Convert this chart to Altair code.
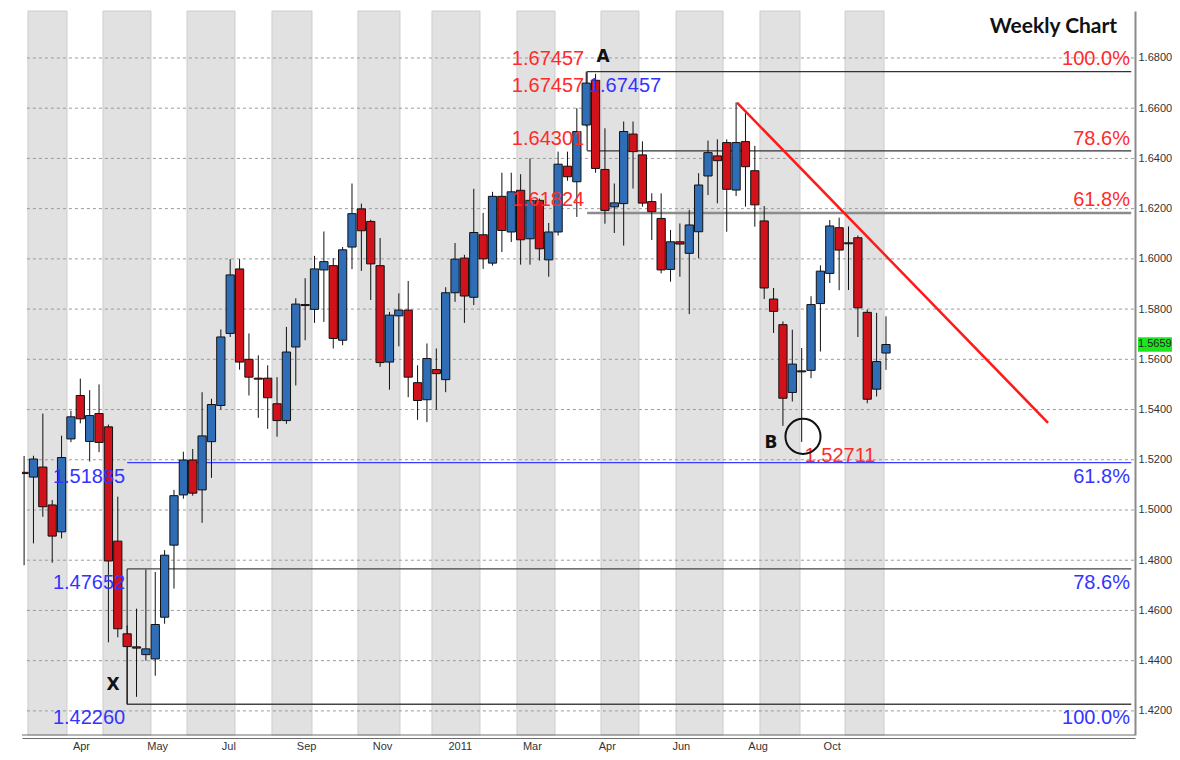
import json
import altair as alt
import pandas as pd

# ---------------- data ----------------
OPEN = [1.5150, 1.5131, 1.5171, 1.5020, 1.4913, 1.5283, 1.5456, 1.5273, 1.5384, 1.5331,
        1.4876, 1.4507, 1.4455, 1.4424, 1.4407, 1.4573, 1.4860, 1.5060, 1.5199, 1.5080,
        1.5272, 1.5416, 1.5703, 1.5960, 1.5600, 1.5525, 1.5525, 1.5423, 1.5356, 1.5649,
        1.5818, 1.5799, 1.5956, 1.5973, 1.5676, 1.6047, 1.6199, 1.6149, 1.5973, 1.5589,
        1.5773, 1.5796, 1.5507, 1.5439, 1.5559, 1.5519, 1.5865, 1.6003, 1.5847, 1.6096,
        1.5983, 1.6249, 1.6107, 1.6273, 1.6080, 1.6233, 1.5996, 1.6107, 1.6369, 1.6307,
        1.6533, 1.6711, 1.6356, 1.6207, 1.6220, 1.6497, 1.6414, 1.6228, 1.6161, 1.5958,
        1.6068, 1.6022, 1.6108, 1.6330, 1.6410, 1.6463, 1.6274, 1.6467, 1.6351, 1.6151,
        1.5840, 1.5738, 1.5468, 1.5554, 1.5556, 1.5822, 1.5942, 1.6124, 1.6064, 1.6084,
        1.5787, 1.5481, 1.5625]
HIGH = [1.5215, 1.5216, 1.5384, 1.5040, 1.5296, 1.5395, 1.5523, 1.5477, 1.5500, 1.5340,
        1.5053, 1.4540, 1.4607, 1.4763, 1.4753, 1.4840, 1.5080, 1.5232, 1.5243, 1.5469,
        1.5443, 1.5719, 1.5999, 1.5999, 1.5703, 1.5616, 1.5576, 1.5529, 1.5729, 1.5843,
        1.5923, 1.6012, 1.6109, 1.6003, 1.6047, 1.6300, 1.6220, 1.6156, 1.6083, 1.5789,
        1.5863, 1.5912, 1.5576, 1.5663, 1.5643, 1.5887, 1.6063, 1.6016, 1.6279, 1.6183,
        1.6267, 1.6343, 1.6343, 1.6337, 1.6400, 1.6240, 1.6143, 1.6427, 1.6427, 1.6600,
        1.67457, 1.6737, 1.6520, 1.6300, 1.6547, 1.6547, 1.6468, 1.6261, 1.6261, 1.6115,
        1.6141, 1.6195, 1.6341, 1.6471, 1.6476, 1.6476, 1.6623, 1.6580, 1.6450, 1.6210,
        1.5884, 1.5751, 1.5718, 1.5645, 1.5851, 1.5974, 1.6155, 1.6164, 1.6129, 1.6093,
        1.5798, 1.5785, 1.5771]
LOW = [1.4780, 1.4867, 1.4973, 1.4790, 1.4887, 1.5270, 1.5345, 1.5193, 1.5230, 1.4473,
       1.4493, 1.4226, 1.4256, 1.4400, 1.4340, 1.4547, 1.4687, 1.5045, 1.5057, 1.4949,
       1.5128, 1.5400, 1.5689, 1.5559, 1.5456, 1.5367, 1.5323, 1.5292, 1.5343, 1.5496,
       1.5676, 1.5745, 1.5749, 1.5643, 1.5656, 1.5959, 1.5952, 1.5836, 1.5570, 1.5479,
       1.5652, 1.5449, 1.5359, 1.5350, 1.5399, 1.5469, 1.5829, 1.5745, 1.5816, 1.5960,
       1.5973, 1.6027, 1.6067, 1.5977, 1.5977, 1.5993, 1.5929, 1.6093, 1.6311, 1.6167,
       1.6527, 1.6343, 1.6140, 1.6103, 1.6053, 1.6280, 1.6208, 1.6075, 1.5942, 1.5909,
       1.5929, 1.5780, 1.6002, 1.6254, 1.6221, 1.6108, 1.6250, 1.6208, 1.6128, 1.5840,
       1.5705, 1.5335, 1.5432, 1.52711, 1.5525, 1.5631, 1.5904, 1.5875, 1.5876, 1.5689,
       1.5425, 1.5452, 1.5558]
CLOSE = [1.5145, 1.5203, 1.5013, 1.4896, 1.5209, 1.5371, 1.5363, 1.5376, 1.5269, 1.4797,
         1.4527, 1.4456, 1.4450, 1.4447, 1.4544, 1.4820, 1.5057, 1.5199, 1.5067, 1.5295,
         1.5420, 1.5689, 1.5936, 1.5589, 1.5529, 1.5521, 1.5447, 1.5356, 1.5629, 1.5820,
         1.5814, 1.5960, 1.5989, 1.5683, 1.6036, 1.6180, 1.6112, 1.5980, 1.5587, 1.5776,
         1.5796, 1.5529, 1.5436, 1.5603, 1.5543, 1.5865, 1.5999, 1.5852, 1.6105, 1.6000,
         1.6249, 1.6113, 1.6267, 1.6076, 1.6233, 1.6040, 1.6107, 1.6377, 1.6327, 1.6507,
         1.6700, 1.6360, 1.6193, 1.6223, 1.6507, 1.6427, 1.6222, 1.6188, 1.5956, 1.6068,
         1.6059, 1.6135, 1.6294, 1.6423, 1.6391, 1.6277, 1.6463, 1.6367, 1.6215, 1.5884,
         1.5791, 1.5445, 1.5581, 1.5550, 1.5818, 1.5951, 1.6131, 1.6035, 1.6060, 1.5805,
         1.5441, 1.5591, 1.5659]

# month shading (week-index ranges)
STRIPE_START = [0.41, 8.42, 17.39, 26.46, 35.64, 43.54, 52.61, 61.58, 69.59, 78.55, 87.63]
STRIPE_END = [4.58, 13.54, 22.51, 30.73, 40.12, 48.66, 56.67, 65.63, 74.61, 82.82, 91.79]

# x-axis labels (week index where each label sits)
MONTH_LABELS = ["Apr", "May", "Jul", "Sep", "Nov", "2011", "Mar", "Apr", "Jun", "Aug", "Oct"]
MONTH_POS = [6.07, 14.2, 21.8, 30.1, 38.2, 46.5, 54.2, 62.2, 70.1, 78.3, 86.2]

# price grid / y tick labels
GRID_LEVELS = [1.42, 1.44, 1.46, 1.48, 1.50, 1.52, 1.54, 1.56, 1.58, 1.60, 1.62, 1.64, 1.66, 1.68]

# Fibonacci levels
FIB_LEVELS = [1.67457, 1.64301, 1.61824, 1.51885, 1.47652, 1.42260]
FIB_START = [60.1, 60.1, 60.1, 11.0, 11.0, 11.0]
FIB_PCT = ["100.0%", "78.6%", "61.8%", "61.8%", "78.6%", "100.0%"]

# trend line (week index, price)
TREND_X = [76.1, 109.3]
TREND_Y = [1.6622, 1.5347]

LAST_PRICE = 1.5659
LOW_B = 1.52711

# ---------------- layout ----------------
W, H = 1113, 724
X_MIN, X_MAX = -0.224, 118.58
Y_MIN, Y_MAX = 1.4104, 1.6987
BLUE = "#2f6eb6"
RED = "#d2121a"
LBL_RED = "#ff2b2b"
LBL_BLUE = "#3434ff"
FONT = "Liberation Sans"

xs = alt.Scale(domain=[X_MIN, X_MAX], nice=False, zero=False)
ys = alt.Scale(domain=[Y_MIN, Y_MAX], nice=False, zero=False)

label_expr = f"{json.dumps(MONTH_LABELS)}[indexof({json.dumps(MONTH_POS)}, datum.value)]"
XAXIS = alt.Axis(values=MONTH_POS, labelExpr=label_expr, ticks=False, grid=False,
                 title=None, labelFont=FONT, labelFontSize=11, labelColor="#333333",
                 labelPadding=2, offset=3, domainColor="#6e6e6e", domainWidth=1.2,
                 labelFlush=False, labelOverlap=False)
YAXIS = alt.Axis(orient="right", values=GRID_LEVELS, format=".4f", ticks=False,
                 grid=False, title=None, labelFont=FONT, labelFontSize=11,
                 labelColor="#333333", labelPadding=3, domainColor="#8a8a8a",
                 domainWidth=2, labelOverlap=False, labelFlush=False)


def X(f):
    return alt.X(f, type="quantitative", scale=xs, axis=XAXIS)


def Y(f):
    return alt.Y(f, type="quantitative", scale=ys, axis=YAXIS)


candles = pd.DataFrame({"i": list(range(len(OPEN))), "open": OPEN, "high": HIGH,
                        "low": LOW, "close": CLOSE})
candles["dir"] = ["up" if c > o else "down" for o, c in zip(OPEN, CLOSE)]

stripes = pd.DataFrame({"s": STRIPE_START, "e": STRIPE_END})
grid = pd.DataFrame({"p": GRID_LEVELS})
fib = pd.DataFrame({"p": FIB_LEVELS, "s": FIB_START,
                    "c": ["#333333", "#333333", "#8c8c8c", "#3a3aff", "#444444", "#444444"],
                    "w": [1.2, 1.2, 2.6, 1.3, 1.3, 1.5]})
vert = pd.DataFrame({"x": [FIB_START[0], FIB_START[3]],
                     "y1": [FIB_LEVELS[1], FIB_LEVELS[5]],
                     "y2": [FIB_LEVELS[0], FIB_LEVELS[4]]})
trend = pd.DataFrame({"x": TREND_X, "y": TREND_Y})

stripe_layer = alt.Chart(stripes).transform_calculate(
    top=f"{Y_MAX}", bot=f"{Y_MIN}"
).mark_rect(fill="#e1e1e1", stroke="#cdcdcd", strokeWidth=1).encode(
    x=X("s:Q"), x2="e:Q", y=Y("top:Q"), y2="bot:Q")

grid_layer = alt.Chart(grid).transform_calculate(
    a="0.3", b=f"{X_MAX}"
).mark_rule(color="#9a9a9a", strokeDash=[3, 3], strokeWidth=1).encode(
    x=X("a:Q"), x2="b:Q", y=Y("p:Q"))

bottom_line = alt.Chart(pd.DataFrame({"p": [Y_MIN]})).transform_calculate(
    a=f"{X_MIN}", b=f"{X_MAX}"
).mark_rule(color="#6e6e6e", strokeWidth=1.2).encode(x=X("a:Q"), x2="b:Q", y=Y("p:Q"))

fib_layer = alt.Chart(fib).transform_calculate(
    e=f"{X_MAX - 0.4}"
).mark_rule().encode(
    x=X("s:Q"), x2="e:Q", y=Y("p:Q"),
    color=alt.Color("c:N", scale=None), strokeWidth=alt.StrokeWidth("w:Q", scale=None))

vert_layer = alt.Chart(vert).mark_rule(color="#333333", strokeWidth=1.2).encode(
    x=X("x:Q"), y=Y("y1:Q"), y2="y2:Q")

wick_layer = alt.Chart(candles).mark_rule(color="#111111", strokeWidth=1, clip=True).encode(
    x=X("i:Q"), y=Y("low:Q"), y2="high:Q")

body_layer = alt.Chart(candles).transform_calculate(
    x0="datum.i - 0.44", x1="datum.i + 0.44"
).mark_rect(stroke="#111111", strokeWidth=1, clip=True).encode(
    x=X("x0:Q"), x2="x1:Q", y=Y("open:Q"), y2="close:Q",
    color=alt.Color("dir:N", scale=alt.Scale(domain=["up", "down"], range=[BLUE, RED]),
                    legend=None),
)

trend_layer = alt.Chart(trend).mark_line(color="#ff1a1a", strokeWidth=2.5).encode(
    x=X("x:Q"), y=Y("y:Q"))

# ---------------- annotations ----------------
left_red = pd.DataFrame({"t": ["1.67457", "1.67457", "1.64301", "1.61824"],
                         "x": [55.92, 55.92, 55.92, 55.92],
                         "y": [1.6796, 1.6689, 1.6477, 1.6235]})
left_red_layer = alt.Chart(left_red).mark_text(
    font=FONT, fontSize=20, color=LBL_RED, align="center", baseline="middle"
).encode(x=X("x:Q"), y=Y("y:Q"), text="t:N")

blue_lbl = pd.DataFrame({"t": ["1.67457", "1.51885", "1.47652", "1.42260"],
                         "x": [64.14, 6.93, 6.93, 6.93],
                         "y": [1.6689, 1.5132, 1.4710, 1.4172]})
blue_lbl_layer = alt.Chart(blue_lbl).mark_text(
    font=FONT, fontSize=20, color=LBL_BLUE, align="center", baseline="middle"
).encode(x=X("x:Q"), y=Y("y:Q"), text="t:N")

pct = pd.DataFrame({"t": FIB_PCT, "x": [118.04] * 6,
                    "y": [1.6796, 1.6477, 1.6235, 1.5132, 1.4710, 1.4172],
                    "c": [LBL_RED, LBL_RED, LBL_RED, LBL_BLUE, LBL_BLUE, LBL_BLUE]})
pct_layer = alt.Chart(pct).mark_text(
    font=FONT, fontSize=20, align="right", baseline="middle"
).encode(x=X("x:Q"), y=Y("y:Q"), text="t:N", color=alt.Color("c:N", scale=None))

b_val = pd.DataFrame({"t": [f"{LOW_B:.5f}"], "x": [87.09], "y": [1.5215]})
b_val_layer = alt.Chart(b_val).mark_text(
    font=FONT, fontSize=20, color=LBL_RED, align="center", baseline="middle"
).encode(x=X("x:Q"), y=Y("y:Q"), text="t:N")

letters = pd.DataFrame({"t": ["A", "X", "B"], "x": [61.79, 9.49, 79.73],
                        "y": [1.6804, 1.4304, 1.5267]})
letters_layer = alt.Chart(letters).mark_text(
    font="DejaVu Sans", fontSize=17, fontWeight="bold", color="#111111",
    align="center", baseline="middle"
).encode(x=X("x:Q"), y=Y("y:Q"), text="t:N")

circle = pd.DataFrame({"x": [83.14], "y": [1.5293]})
circle_layer = alt.Chart(circle).mark_point(
    shape="circle", size=1230, filled=False, color="#111111", strokeWidth=2, opacity=1
).encode(x=X("x:Q"), y=Y("y:Q"))

title = pd.DataFrame({"t": ["Weekly Chart"], "x": [109.88], "y": [1.6923]})
title_layer = alt.Chart(title).mark_text(
    font="Lato", fontSize=21, fontWeight="bold", color="#111111",
    align="center", baseline="middle"
).encode(x=X("x:Q"), y=Y("y:Q"), text="t:N")

last = pd.DataFrame({"p": [LAST_PRICE], "lo": [LAST_PRICE - 0.0029],
                     "hi": [LAST_PRICE + 0.0029], "t": [f"{LAST_PRICE:.4f}"]})
last_box = alt.Chart(last).mark_rect(fill="#1ee61e").encode(
    x=alt.value(W + 3), x2=alt.value(W + 37), y=Y("hi:Q"), y2="lo:Q")
last_txt = alt.Chart(last).mark_text(
    font=FONT, fontSize=11, color="#222222", align="left", baseline="middle"
).encode(x=alt.value(W + 3), y=Y("p:Q"), text="t:N")

chart = alt.layer(
    stripe_layer, grid_layer, bottom_line, fib_layer, vert_layer, wick_layer, body_layer,
    trend_layer, left_red_layer, blue_lbl_layer, pct_layer, b_val_layer,
    letters_layer, circle_layer, title_layer, last_box, last_txt
).properties(
    width=W, height=H,
    padding={"left": 14, "top": 3, "right": 37, "bottom": 17},
    autosize=alt.AutoSizeParams(type="none"),
    background="white",
).configure_view(stroke=None)

chart.save("out.html", embed_options={"renderer": "svg", "actions": False})
